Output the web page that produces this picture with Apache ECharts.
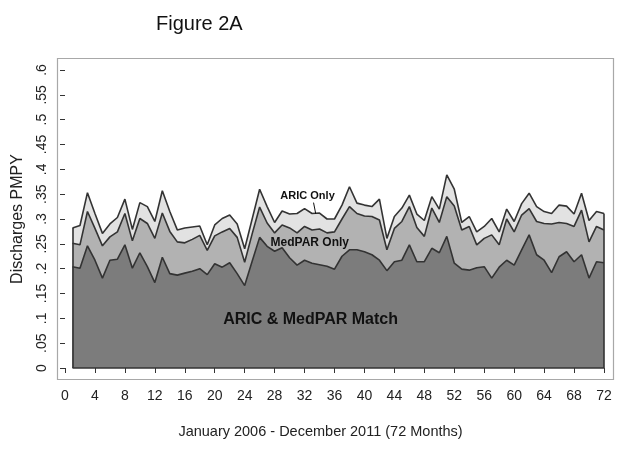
<!DOCTYPE html>
<html>
<head>
<meta charset="utf-8">
<script src="https://cdn.jsdelivr.net/npm/echarts@6/dist/echarts.min.js"></script>
<style>
html,body{margin:0;padding:0;background:#fff;}
#main{width:629px;height:449px;}
</style>
</head>
<body>
<div id="main"></div>
<script>
// Months 1..72 (January 2006 - December 2011)
var months = [];
for (var i = 1; i <= 72; i++) months.push(i);

// Upper boundary of the "ARIC & MedPAR Match" layer (discharges PMPY)
var matchLevel = [
0.204,0.201,0.246,0.217,0.181,0.217,0.219,0.248,0.201,0.232,0.204,0.172,
0.223,0.190,0.187,0.191,0.195,0.200,0.188,0.210,0.203,0.212,0.190,0.166,
0.215,0.263,0.245,0.235,0.242,0.222,0.207,0.217,0.211,0.208,0.205,0.199,
0.225,0.238,0.238,0.234,0.228,0.217,0.196,0.214,0.217,0.248,0.214,0.214,
0.241,0.232,0.265,0.211,0.199,0.197,0.202,0.204,0.181,0.203,0.217,0.207,
0.238,0.268,0.228,0.217,0.192,0.224,0.234,0.214,0.228,0.181,0.214,0.212];

// Upper boundary of Match + "MedPAR Only"
var medparLevel = [
0.251,0.248,0.315,0.281,0.246,0.264,0.274,0.311,0.256,0.301,0.291,0.261,
0.312,0.275,0.254,0.252,0.259,0.267,0.237,0.266,0.274,0.281,0.263,0.213,
0.270,0.324,0.292,0.272,0.288,0.282,0.272,0.285,0.278,0.280,0.272,0.274,
0.300,0.325,0.311,0.306,0.305,0.298,0.238,0.281,0.295,0.325,0.283,0.265,
0.322,0.293,0.345,0.326,0.278,0.285,0.248,0.261,0.268,0.248,0.300,0.274,
0.308,0.321,0.295,0.291,0.290,0.293,0.291,0.285,0.318,0.254,0.285,0.278];

// Upper boundary of all discharges (Match + MedPAR Only + "ARIC Only")
var totalLevel = [
0.282,0.287,0.353,0.311,0.271,0.290,0.303,0.340,0.279,0.333,0.325,0.295,
0.357,0.315,0.278,0.282,0.284,0.286,0.248,0.288,0.301,0.308,0.290,0.240,
0.300,0.360,0.325,0.293,0.316,0.310,0.311,0.321,0.311,0.312,0.300,0.300,
0.328,0.365,0.332,0.328,0.325,0.340,0.261,0.305,0.322,0.348,0.310,0.297,
0.345,0.320,0.389,0.360,0.293,0.305,0.274,0.285,0.301,0.274,0.320,0.295,
0.331,0.352,0.325,0.315,0.311,0.328,0.326,0.310,0.352,0.297,0.315,0.311];

var yTickLabels = ['0','.05','.1','.15','.2','.25','.3','.35','.4','.45','.5','.55','.6'];

function pairs(arr){ return months.map(function(m,i){ return [m, arr[i]]; }); }

var FONT = '"Liberation Sans", Arial, Helvetica, sans-serif';
var EDGE = '#333333';

var chart = echarts.init(document.getElementById('main'), null, {renderer:'canvas'});
var option = {
  backgroundColor: '#ffffff',
  animation: false,
  title: {
    text: 'Figure 2A', left: 151, top: 9,
    textStyle: {fontFamily: FONT, fontSize: 20, fontWeight: 'normal', color: '#111'}
  },
  graphic: [{
    type: 'rect', silent: true, z: -1,
    shape: {x: 57.5, y: 58.5, width: 556, height: 321},
    style: {fill: '#ffffff', stroke: '#a8a8a8', lineWidth: 1.2}
  }],
  grid: {left: 65, right: 25, top: 70, bottom: 81},
  xAxis: {
    type: 'value', min: 0, max: 72, interval: 4, offset: 12,
    axisLine: {show: false},
    axisTick: {show: true, length: 5, lineStyle: {color: '#333'}},
    axisLabel: {fontFamily: FONT, fontSize: 14, color: '#222', margin: 9},
    splitLine: {show: false},
    name: 'January 2006 - December 2011 (72 Months)',
    nameLocation: 'middle', nameGap: 44,
    nameTextStyle: {fontFamily: FONT, fontSize: 14.5, color: '#222', padding: [0, 28, 0, 0]}
  },
  yAxis: {
    type: 'value', min: 0, max: 0.6, interval: 0.05, offset: 10,
    axisLine: {show: false},
    axisTick: {show: true, length: 5, lineStyle: {color: '#333'}},
    axisLabel: {
      fontFamily: FONT, fontSize: 14, color: '#222', rotate: 90, margin: 6,
      formatter: function(v){ return yTickLabels[Math.round(v / 0.05)]; }
    },
    splitLine: {show: false},
    name: 'Discharges PMPY', nameLocation: 'middle', nameGap: 29,
    nameTextStyle: {fontFamily: FONT, fontSize: 16, color: '#222'}
  },
  series: [
    {
      name: 'ARIC Only', type: 'line', data: pairs(totalLevel), z: 2,
      symbol: 'none', lineStyle: {color: EDGE, width: 1.6},
      areaStyle: {color: '#e2e2e2', opacity: 1, origin: 'start'},
      markPoint: {
        symbol: 'circle', symbolSize: 0, silent: true,
        label: {show: true, position: 'inside', fontFamily: FONT, fontSize: 11, fontWeight: 'bold', color: '#111', formatter: 'ARIC Only'},
        data: [{coord: [32.4, 0.347]}]
      },
      markLine: {
        symbol: 'none', silent: true, label: {show: false},
        lineStyle: {color: '#111', width: 1, type: 'solid'},
        data: [[{coord: [33.2, 0.333]}, {coord: [33.5, 0.310]}]]
      }
    },
    {
      name: 'MedPAR Only', type: 'line', data: pairs(medparLevel), z: 3,
      symbol: 'none', lineStyle: {color: EDGE, width: 1.6},
      areaStyle: {color: '#b2b2b2', opacity: 1, origin: 'start'},
      markPoint: {
        symbol: 'circle', symbolSize: 0, silent: true,
        label: {show: true, position: 'inside', fontFamily: FONT, fontSize: 12, fontWeight: 'bold', color: '#111', formatter: 'MedPAR Only'},
        data: [{coord: [32.7, 0.252]}]
      }
    },
    {
      name: 'ARIC & MedPAR Match', type: 'line', data: pairs(matchLevel), z: 4,
      symbol: 'none', lineStyle: {color: EDGE, width: 1.6},
      areaStyle: {color: '#7c7c7c', opacity: 1, origin: 'start'},
      markPoint: {
        symbol: 'circle', symbolSize: 0, silent: true,
        label: {show: true, position: 'inside', fontFamily: FONT, fontSize: 16, fontWeight: 'bold', color: '#111', formatter: 'ARIC & MedPAR Match'},
        data: [{coord: [32.8, 0.097]}]
      },
      markLine: {
        symbol: 'none', silent: true, label: {show: false},
        lineStyle: {color: EDGE, width: 1.6, type: 'solid'},
        data: [
          [{coord: [months[0], 0]}, {coord: [months[0], totalLevel[0]]}],
          [{coord: [months[71], 0]}, {coord: [months[71], totalLevel[71]]}],
          [{coord: [months[0], 0]}, {coord: [months[71], 0]}]
        ]
      }
    }
  ]
};
chart.setOption(option);
</script>
</body>
</html>
